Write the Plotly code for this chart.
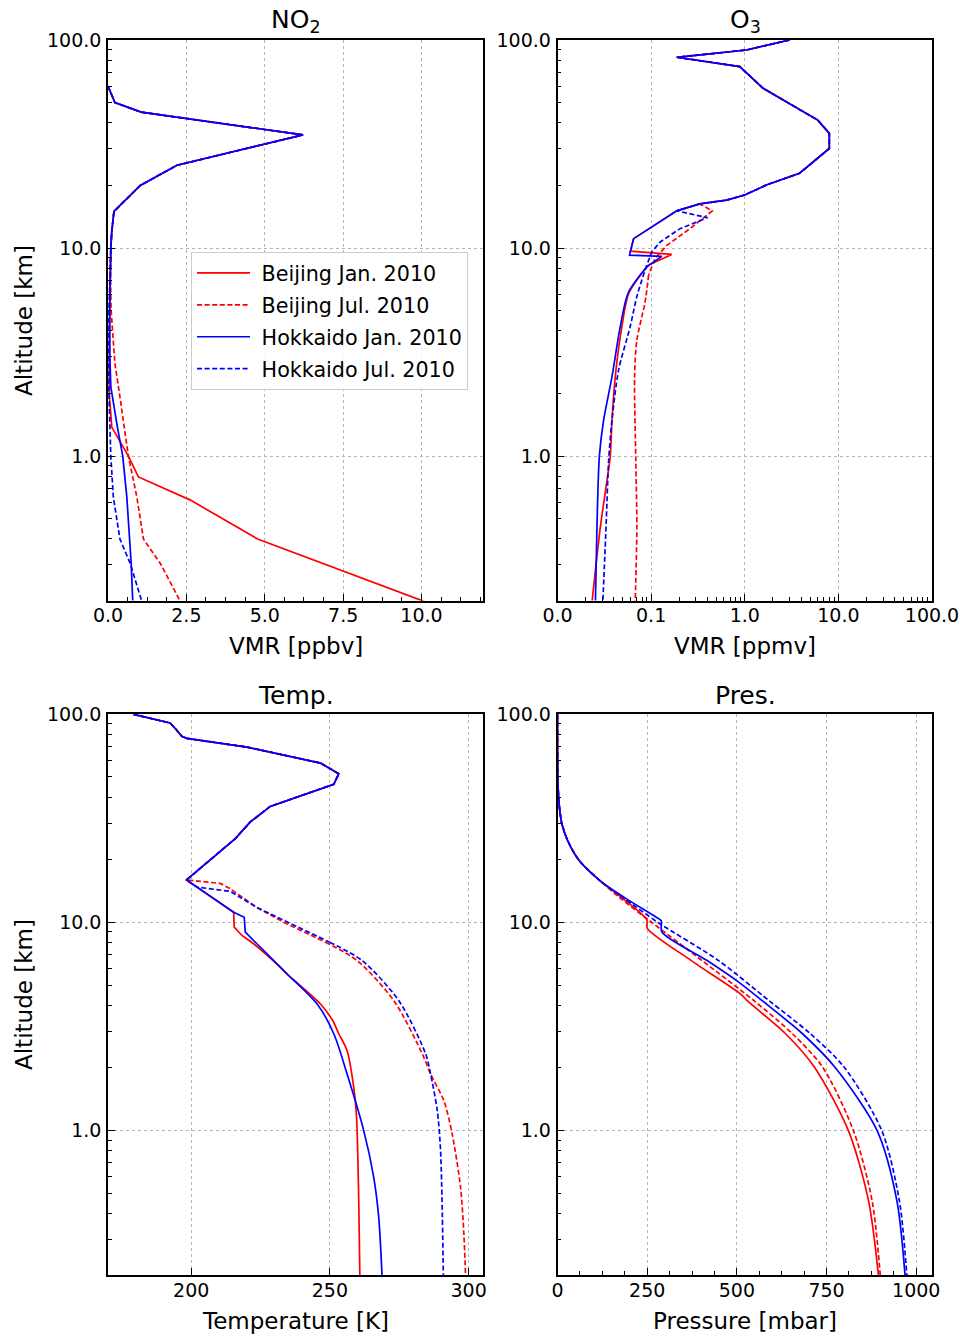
import math
import plotly.graph_objects as go

# ---------------- data ----------------
series_names = ["Beijing Jan. 2010", "Beijing Jul. 2010", "Hokkaido Jan. 2010", "Hokkaido Jul. 2010"]
series_colors = ["#ff0000", "#ff0000", "#0000ff", "#0000ff"]
series_dash = ["solid", "5px,2.6px", "solid", "5px,2.6px"]

# NO2 [ppbv] -- shared upper part, then per-series lower part
no2_alt_shared = [60, 50, 45, 35, 25, 20, 15, 12, 10]
no2_val_shared = [0.0, 0.22, 1.06, 6.22, 2.2, 1.03, 0.19, 0.12, 0.09]
no2_alt_bj_jan = [7, 5, 3, 2, 1.38, 1.0, 0.795, 0.615, 0.40, 0.2]
no2_val_bj_jan = [0.07, 0.05, 0.04, 0.04, 0.12, 0.65, 0.97, 2.63, 4.77, 10.1]
no2_alt_bj_jul = [7, 5, 2.79, 1.93, 1.0, 0.637, 0.40, 0.305, 0.2]
no2_val_bj_jul = [0.08, 0.10, 0.22, 0.38, 0.65, 0.92, 1.13, 1.67, 2.31]
no2_alt_hk_jan = [7, 5, 3, 2.15, 1.38, 1.0, 0.637, 0.305, 0.2]
no2_val_hk_jan = [0.06, 0.05, 0.06, 0.09, 0.30, 0.47, 0.60, 0.74, 0.79]
no2_alt_hk_jul = [7, 5, 2, 1.0, 0.637, 0.40, 0.305, 0.2]
no2_val_hk_jul = [0.05, 0.03, 0.03, 0.09, 0.17, 0.38, 0.71, 1.08]

# O3 [ppmv]
o3_alt_shared = [100, 89.5, 82.6, 74.5, 58.6, 51.5, 41.2, 35.6, 30.1, 22.9, 20.1, 18.0, 17.0, 16.3]
o3_val_shared = [3.01, 1.04, 0.188, 0.885, 1.57, 2.56, 6.03, 8.0, 8.0, 3.85, 1.70, 1.0, 0.64, 0.33]
o3_alt_bj_jan = [15.1, 12.2, 11.1, 9.67, 9.32, 8.3, 6.1, 4.19, 2.41, 1.49, 1.0, 0.767, 0.457, 0.2]
o3_val_bj_jan = [0.188, 0.090, 0.065, 0.060, 0.166, 0.094, 0.058, 0.0487, 0.0414, 0.0382, 0.0366, 0.0338, 0.0287, 0.0234]
o3_alt_bj_jul = [15.1, 12.4, 10.3, 8.91, 7.42, 5.52, 3.61, 2.41, 0.957, 0.457, 0.2]
o3_val_bj_jul = [0.45, 0.26, 0.147, 0.110, 0.094, 0.0863, 0.0704, 0.0666, 0.0686, 0.0704, 0.0676]
o3_alt_hk_jan = [15.1, 12.2, 11.1, 9.25, 9.12, 8.13, 6.1, 4.19, 2.41, 1.49, 1.0, 0.457, 0.2]
o3_val_hk_jan = [0.188, 0.090, 0.065, 0.0588, 0.130, 0.090, 0.057, 0.0468, 0.0382, 0.0311, 0.028, 0.0264, 0.0254]
o3_alt_hk_jul = [15.1, 14.0, 12.4, 10.7, 9.6, 8.3, 5.93, 4.19, 2.59, 1.49, 0.957, 0.457, 0.2]
o3_val_hk_jul = [0.188, 0.40, 0.204, 0.125, 0.102, 0.090, 0.071, 0.0597, 0.0449, 0.0382, 0.0352, 0.0330, 0.0305]

# Temperature [K]
t_alt_shared = [100, 90.8, 83.8, 78.4, 76.6, 69.6, 58.3, 51.8, 46.1, 36.1, 30.4, 25.3, 16.0]
t_val_shared = [179.2, 192.4, 194.8, 196.6, 198.4, 220.1, 246.6, 253.2, 251.4, 228.5, 221.3, 215.9, 198.3]
t_alt_bj_jan = [11.2, 9.5, 8.66, 7.9, 6.1, 5.67, 4.06, 3.38, 2.92, 2.42, 1.61, 1.16, 0.461, 0.2]
t_val_bj_jan = [215.3, 215.5, 218.3, 222.5, 232.1, 234.5, 246.6, 251.0, 253.2, 256.2, 258.6, 259.6, 260.4, 260.8]
t_alt_bj_jul = [15.4, 14.5, 11.8, 10.0, 8.04, 6.56, 4.22, 2.34, 1.87, 1.39, 0.96, 0.534, 0.318, 0.2]
t_val_bj_jul = [210.5, 214.1, 223.7, 233.5, 248.4, 259.8, 273.0, 283.3, 286.3, 291.1, 294.1, 297.1, 298.3, 298.9]
t_alt_hk_jan = [11.2, 10.6, 8.98, 7.9, 6.1, 5.67, 4.06, 2.92, 1.87, 1.0, 0.596, 0.383, 0.2]
t_val_hk_jan = [215.3, 219.1, 219.5, 223.7, 232.1, 234.5, 245.4, 251.4, 256.2, 262.2, 265.8, 267.6, 268.8]
t_alt_hk_jul = [14.8, 14.1, 11.8, 10.0, 8.04, 6.56, 4.22, 2.34, 1.87, 1.25, 0.80, 0.2]
t_val_hk_jul = [202.0, 214.1, 223.7, 235.0, 249.9, 261.6, 274.8, 284.5, 286.3, 288.7, 289.9, 290.9]

# Pressure [mbar]
p_alt_shared = [100, 70, 50, 46.4, 38.8, 33.3, 29.9, 24.8, 19.9, 15.9]
p_val_shared = [0.0003, 0.05, 0.8, 1.4, 3.5, 7.5, 12, 28, 60, 118]
p_alt_bj_jan = [13.2, 10.3, 9.4, 6.56, 4.54, 4.22, 2.92, 2.02, 1.0, 0.461, 0.2]
p_val_bj_jan = [178, 249, 250, 373, 510, 528, 636, 716, 811, 867, 895]
p_alt_bj_jul = [13.2, 10.0, 6.56, 4.22, 2.92, 2.02, 1.0, 0.461, 0.2]
p_val_bj_jul = [172, 263, 403, 547, 655, 739, 825, 877, 900]
p_alt_hk_jan = [13.2, 10.6, 10.2, 9.0, 6.56, 5.17, 4.22, 2.92, 2.02, 1.0, 0.461, 0.2]
p_val_hk_jan = [186, 275, 289, 291, 417, 505, 570, 683, 773, 891, 946, 969]
p_alt_hk_jul = [13.2, 10.0, 6.56, 4.22, 2.92, 2.02, 1.0, 0.461, 0.2]
p_val_hk_jul = [182, 280, 449, 589, 705, 799, 904, 953, 974]

# tick labels
alt_tickvals = [1, 10, 100]
alt_ticktext = ["1.0", "10.0", "100.0"]
no2_tickvals = [0, 2.5, 5, 7.5, 10]
no2_ticktext = ["0.0", "2.5", "5.0", "7.5", "10.0"]
o3_tickvals = [0.01, 0.1, 1, 10, 100]
o3_ticktext = ["0.0", "0.1", "1.0", "10.0", "100.0"]
t_tickvals = [200, 250, 300]
p_tickvals = [0, 250, 500, 750, 1000]

# ---------------- figure ----------------
W, H = 961, 1337
ML, MR, MT, MB = 108, 29, 40, 62
PW, PH = W - ML - MR, H - MT - MB


def px_x(X):
    return (X - ML) / PW


def px_y(Y):
    return (H - MB - Y) / PH


FONT = "DejaVu Sans"
fig = go.Figure()

# (xaxis, yaxis, shared alt, shared val, per-series parts, split altitude for smooth part)
panels = [
    ("x", "y", no2_alt_shared, no2_val_shared,
     [(no2_alt_bj_jan, no2_val_bj_jan), (no2_alt_bj_jul, no2_val_bj_jul),
      (no2_alt_hk_jan, no2_val_hk_jan), (no2_alt_hk_jul, no2_val_hk_jul)], None),
    ("x2", "y2", o3_alt_shared, o3_val_shared,
     [(o3_alt_bj_jan, o3_val_bj_jan), (o3_alt_bj_jul, o3_val_bj_jul),
      (o3_alt_hk_jan, o3_val_hk_jan), (o3_alt_hk_jul, o3_val_hk_jul)], 8.5),
    ("x3", "y3", t_alt_shared, t_val_shared,
     [(t_alt_bj_jan, t_val_bj_jan), (t_alt_bj_jul, t_val_bj_jul),
      (t_alt_hk_jan, t_val_hk_jan), (t_alt_hk_jul, t_val_hk_jul)], 8.7),
    ("x4", "y4", p_alt_shared, p_val_shared,
     [(p_alt_bj_jan, p_val_bj_jan), (p_alt_bj_jul, p_val_bj_jul),
      (p_alt_hk_jan, p_val_hk_jan), (p_alt_hk_jul, p_val_hk_jul)], "all"),
]

for pi, (xa, ya, alt_sh, val_sh, parts, split) in enumerate(panels):
    for si, (alt_lo, val_lo) in enumerate(parts):
        xs = list(val_sh) + list(val_lo)
        ys = list(alt_sh) + list(alt_lo)
        line = dict(color=series_colors[si], width=1.7, dash=series_dash[si])
        if split is None:
            pieces = [(xs, ys, "linear")]
        elif split == "all":
            pieces = [(xs, ys, "spline")]
        else:
            k = next(i for i, a in enumerate(ys) if a <= split)
            pieces = [(xs[:k + 1], ys[:k + 1], "linear"), (xs[k:], ys[k:], "spline")]
        for xx, yy, shape in pieces:
            fig.add_trace(go.Scatter(
                x=xx, y=yy, mode="lines", xaxis=xa, yaxis=ya,
                name="\u00a0" + series_names[si], legendgroup=series_names[si],
                showlegend=(pi == 0),
                line=dict(line, shape=shape, smoothing=0.8) if shape == "spline" else line,
            ))

common = dict(
    showline=True, linecolor="black", linewidth=1.5, mirror=True,
    ticks="inside", ticklen=7, tickwidth=1.2, tickcolor="black",
    showgrid=True, gridcolor="#b5b5b5", gridwidth=1, griddash="dot",
    zeroline=False, automargin=False,
    tickfont=dict(family=FONT, size=19, color="black"),
)
log_minor_y = [v * m for v in (0.1, 1, 10) for m in range(2, 10) if 0.2025 < v * m < 100]
log_minor_x = [v * m for v in (0.01, 0.1, 1, 10) for m in range(2, 10)]

yrange = [math.log10(0.2025), 2]
ydom_top = [px_y(600.5), 1]
ydom_bot = [0, px_y(714.3)]
xdom_l = [0, px_x(483.3)]
xdom_r = [px_x(557.5), 1]

yax = dict(common, type="log", range=yrange, tickmode="array",
           tickvals=alt_tickvals, ticktext=alt_ticktext, ticklabelstandoff=1,
           minor=dict(tickmode="array", tickvals=log_minor_y, ticks="inside",
                      ticklen=4, tickwidth=1, tickcolor="black", showgrid=False))
xcommon = dict(common, ticklabelstandoff=-3)

fig.update_layout(
    width=W, height=H,
    margin=dict(l=ML, r=MR, t=MT, b=MB, autoexpand=False),
    paper_bgcolor="white", plot_bgcolor="white",
    font=dict(family=FONT, color="black"),
    xaxis=dict(xcommon, domain=xdom_l, anchor="y", range=[0, 11.97],
               tickmode="array", tickvals=no2_tickvals, ticktext=no2_ticktext,
               minor=dict(dtick=0.625, tick0=0, ticks="inside", ticklen=4,
                          tickwidth=1, tickcolor="black", showgrid=False)),
    yaxis=dict(yax, domain=ydom_top, anchor="x"),
    xaxis2=dict(xcommon, domain=xdom_r, anchor="y2", type="log", range=[-2, 2],
                tickmode="array", tickvals=o3_tickvals, ticktext=o3_ticktext,
                minor=dict(tickmode="array", tickvals=log_minor_x, ticks="inside",
                           ticklen=4, tickwidth=1, tickcolor="black", showgrid=False)),
    yaxis2=dict(yax, domain=ydom_top, anchor="x2"),
    xaxis3=dict(xcommon, domain=xdom_l, anchor="y3", range=[170, 305.3],
                tickmode="array", tickvals=t_tickvals),
    yaxis3=dict(yax, domain=ydom_bot, anchor="x3"),
    xaxis4=dict(xcommon, domain=xdom_r, anchor="y4", range=[0, 1044],
                tickmode="array", tickvals=p_tickvals,
                minor=dict(dtick=62.5, tick0=0, ticks="inside", ticklen=4,
                           tickwidth=1, tickcolor="black", showgrid=False)),
    yaxis4=dict(yax, domain=ydom_bot, anchor="x4"),
    legend=dict(x=px_x(191), y=px_y(252), xanchor="left", yanchor="top",
                bgcolor="rgba(255,255,255,0.85)", bordercolor="#cccccc", borderwidth=1,
                font=dict(family=FONT, size=20.7, color="black"),
                itemwidth=53, tracegroupgap=2, traceorder="grouped"),
    showlegend=True,
)

ann = []


def add_text(text, X, Y, size, angle=0):
    ann.append(dict(text=text, x=px_x(X), y=px_y(Y), xref="paper", yref="paper",
                    xanchor="center", yanchor="middle", showarrow=False, textangle=angle,
                    font=dict(family=FONT, size=size, color="black")))


add_text("NO<sub>2</sub>", 295.7, 21, 25)
add_text("O<sub>3</sub>", 745, 21, 25)
add_text("Temp.", 295.7, 695, 25)
add_text("Pres.", 745, 695, 25)
add_text("VMR [ppbv]", 295.7, 646, 23)
add_text("VMR [ppmv]", 745, 646, 23)
add_text("Temperature [K]", 295.7, 1321, 23)
add_text("Pressure [mbar]", 745, 1321, 23)
add_text("Altitude [km]", 24, 321, 23, -90)
add_text("Altitude [km]", 24, 995, 23, -90)
fig.update_layout(annotations=ann)

fig.write_html("out.html")
